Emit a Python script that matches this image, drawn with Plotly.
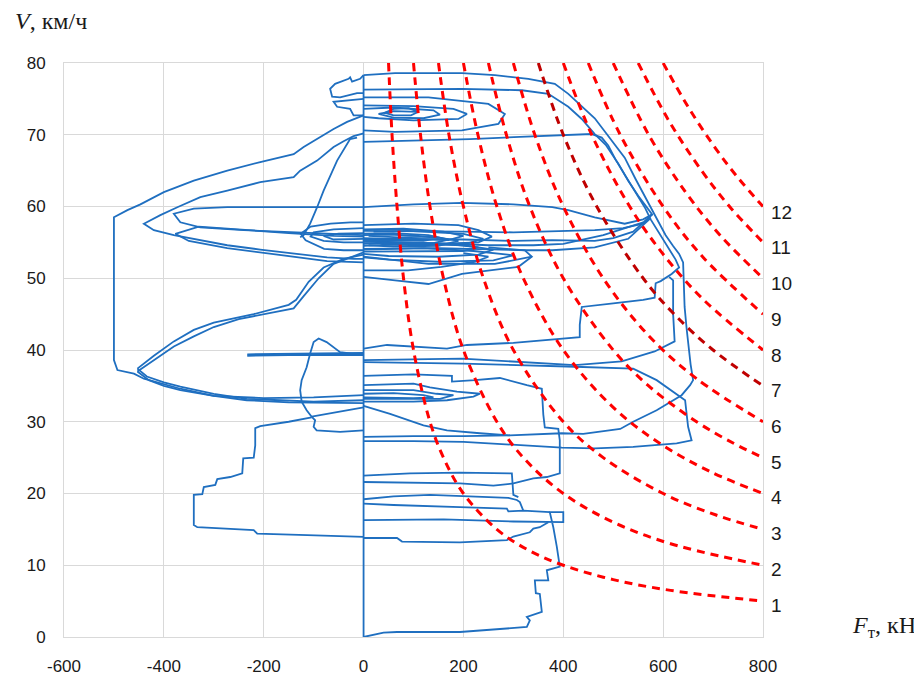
import plotly.graph_objects as go

# ---------------- axes ----------------
x_ticks = [-600, -400, -200, 0, 200, 400, 600, 800]
y_ticks = [0, 10, 20, 30, 40, 50, 60, 70, 80]

# ---------------- red characteristic curves (F, V) ----------------
curve_labels = ["1", "2", "3", "4", "5", "6", "7", "8", "9", "10", "11", "12"]
curve_label_V = [4.4, 9.4, 14.4, 19.4, 24.3, 29.3, 34.3, 39.3, 44.3, 49.3, 54.3, 59.2]

curve_01 = [(50, 80), (57, 70), (67, 60), (80, 50), (100, 40), (133, 30), (160, 25), (200, 20), (267, 15), (333, 12), (400, 10), (500, 8), (615, 6.5), (800, 5)]
curve_02 = [(100, 80), (114, 70), (133, 60), (160, 50), (200, 40), (267, 30), (320, 25), (400, 20), (500, 16), (615, 13), (800, 10)]
curve_03 = [(150, 80), (171, 70), (200, 60), (240, 50), (300, 40), (400, 30), (480, 25), (600, 20), (706, 17), (800, 15)]
curve_04 = [(200, 80), (229, 70), (267, 60), (320, 50), (400, 40), (500, 32), (593, 27), (696, 23), (800, 20)]
curve_05 = [(250, 80), (286, 70), (333, 60), (400, 50), (500, 40), (571, 35), (667, 30), (741, 27), (800, 25)]
curve_06 = [(300, 80), (343, 70), (400, 60), (480, 50), (571, 42), (667, 36), (800, 30)]
curve_07 = [(350, 80), (400, 70), (467, 60), (560, 50), (622, 45), (700, 40), (800, 35)]
curve_08 = [(400, 80), (457, 70), (533, 60), (604, 53), (681, 47), (800, 40)]
curve_09 = [(450, 80), (514, 70), (600, 60), (679, 53), (800, 45)]
curve_10 = [(500, 80), (571, 70), (645, 62), (714, 56), (800, 50)]
curve_11 = [(550, 80), (611, 72), (677, 65), (733, 60), (800, 55)]
curve_12 = [(600, 80), (649, 74), (706, 68), (750, 64), (800, 60)]

# ---------------- blue trajectory pieces (F, V) ----------------
seg_axis0 = [(0, 0.0), (0, 78.3)]
seg_bottom = [(0, 0.0), (40, 0.6), (67, 0.7), (193, 0.7), (327, 1.4), (333, 2.3), (327, 2.8), (357, 3.5),
              (353, 6.0), (345, 6.1), (343, 7.9), (370, 7.9), (367, 9.3), (393, 9.8), (387, 12.6),
              (380, 15.3), (373, 17.4), (400, 17.4), (400, 16.0), (370, 16.0), (300, 16.1), (160, 16.4), (0, 16.3)]
seg_h13 = [(0, 13.8), (67, 13.8), (77, 13.3), (193, 13.2), (287, 13.5), (300, 14.0), (333, 14.6), (340, 15.1), (353, 15.3), (370, 16.0)]
seg_h18 = [(0, 18.6), (60, 18.4), (193, 18.1), (287, 17.9), (290, 17.5), (320, 17.6), (373, 17.4)]
seg_h19 = [(0, 19.2), (60, 19.6), (133, 19.8), (233, 19.6), (290, 19.4), (307, 19.1), (313, 18.8), (320, 17.6)]
seg_h22 = [(0, 22.5), (93, 22.8), (193, 22.9), (297, 22.8), (300, 19.8), (310, 19.5)]
seg_h21 = [(0, 21.6), (193, 21.4), (260, 21.1), (300, 21.4), (340, 22.1), (367, 22.3), (393, 22.8), (393, 27.4),
           (390, 29.0), (363, 29.2), (360, 31.0), (357, 34.6), (327, 35.1), (273, 36.1), (223, 35.8), (177, 35.6),
           (177, 36.4), (100, 36.6), (0, 36.4)]
seg_ls1 = [(0, 35.1), (100, 35.3), (133, 34.8), (187, 34.2), (233, 33.9), (220, 33.5), (167, 33.0), (100, 32.8), (0, 32.8)]
seg_ls2 = [(0, 34.4), (100, 34.4), (146, 33.9), (180, 33.7), (153, 33.2), (100, 33.2), (0, 33.2)]
seg_ls3 = [(0, 33.9), (60, 34.0), (120, 33.7), (140, 33.4), (100, 33.3), (0, 33.4)]
seg_line_c = [(0, 38.3), (200, 38.1), (407, 37.7), (473, 37.6), (540, 37.4), (587, 35.8), (634, 33.5), (644, 33.0),
              (647, 31.1), (650, 29.3), (657, 27.4), (627, 27.0), (540, 26.5), (463, 26.3), (397, 26.4),
              (300, 26.8), (200, 27.2), (100, 27.3), (0, 27.3)]
seg_line_e = [(0, 32.2), (53, 31.1), (120, 29.5), (167, 28.8), (233, 28.4), (293, 28.1)]
seg_x620 = [(612, 50.2), (620, 49.7), (620, 45.0), (621, 42.7), (623, 41.2), (583, 39.8), (517, 38.4),
            (423, 37.9), (300, 38.4), (197, 38.8), (0, 38.6)]
seg_T1 = [(0, 78.3), (63, 78.6), (197, 78.6), (263, 78.3), (330, 77.8), (383, 77.1), (410, 75.7), (437, 74.0),
          (463, 72.3), (487, 70.1), (505, 68.5), (523, 66.8), (545, 63.8), (560, 61.8), (578, 59.6), (592, 57.6),
          (605, 56.0), (620, 54.5), (632, 53.4), (640, 52.2), (641, 50.0), (643, 46.0), (647, 43.0), (650, 40.9),
          (655, 38.0), (660, 35.8), (654, 35.1), (637, 33.7), (587, 31.6), (540, 30.0), (514, 29.0), (440, 28.3),
          (397, 28.4), (293, 28.1), (200, 28.0), (100, 28.0), (0, 27.9)]
seg_T2 = [(0, 76.3), (197, 76.4), (317, 76.2), (370, 75.7), (410, 73.9), (437, 72.2), (463, 70.1), (485, 68.6),
          (510, 66.0), (530, 63.6), (550, 61.5), (570, 59.7), (578, 58.9), (560, 57.6), (520, 57.0), (463, 56.7),
          (378, 56.5), (300, 56.4), (200, 56.5), (100, 56.6), (0, 56.6)]
seg_T3 = [(0, 69.0), (113, 69.2), (213, 69.4), (313, 69.7), (457, 70.1), (477, 69.6), (490, 68.5), (505, 66.5),
          (525, 64.2), (545, 62.0), (563, 59.9), (575, 58.2), (590, 56.5), (610, 54.3), (625, 52.6), (632, 51.5),
          (617, 50.6), (595, 49.6), (585, 49.3), (583, 47.3), (560, 47.0), (500, 46.5), (437, 46.0), (433, 43.5),
          (433, 41.8), (300, 41.0), (207, 40.7), (167, 40.2), (47, 40.7), (0, 40.2)]
seg_line60 = [(0, 59.9), (100, 60.3), (197, 60.5), (300, 60.3), (378, 59.9), (410, 59.5), (463, 58.5),
              (523, 57.6), (560, 58.2), (578, 58.9)]
seg_tip_b = [(578, 58.9), (540, 56.5), (500, 55.6), (463, 55.2), (378, 55.3), (300, 55.2), (200, 55.4), (100, 55.5), (0, 55.4)]
seg_tip_c = [(575, 58.4), (530, 55.5), (463, 54.3), (378, 53.9), (330, 53.9), (250, 54.0), (150, 54.2), (0, 54.1)]
seg_tip_d = [(560, 57.8), (480, 56.0), (400, 54.8), (340, 54.6), (250, 54.6), (150, 54.9), (0, 54.9)]
seg_top1 = [(0, 75.2), (130, 75.2), (250, 74.3), (283, 72.9), (270, 71.5), (197, 70.6), (63, 70.4), (0, 70.6)]
seg_top2 = [(0, 74.1), (100, 74.0), (180, 73.6), (207, 72.9), (190, 72.2), (100, 72.0), (30, 72.3), (0, 72.5)]
seg_top3 = [(0, 73.6), (60, 73.8), (140, 73.4), (153, 72.8), (120, 72.3), (60, 72.4), (30, 72.9), (60, 73.3), (110, 73.2)]
seg_top4 = [(40, 73.0), (60, 73.6), (90, 73.7), (110, 73.2), (95, 72.7), (60, 72.7), (45, 73.0)]
seg_w1 = [(0, 78.3), (-7, 77.8), (-23, 77.4), (-27, 78.0), (-30, 77.8), (-57, 77.1), (-67, 76.4), (-63, 75.3),
          (-47, 75.2), (-27, 75.6), (-13, 75.8), (0, 75.8)]
seg_w2 = [(0, 75.0), (-40, 74.8), (-60, 74.6), (-53, 73.9), (-27, 73.6), (-20, 72.7), (0, 72.7)]
seg_b1 = [(0, 57.4), (100, 57.6), (190, 57.4), (230, 56.7), (257, 55.8), (230, 55.0), (150, 54.8), (50, 55.0), (0, 55.2)]
seg_b2 = [(0, 56.8), (80, 56.9), (160, 56.5), (200, 55.9), (170, 55.3), (80, 55.5), (0, 55.6)]
seg_b3 = [(0, 56.2), (60, 56.3), (130, 56.0), (170, 55.4), (140, 54.9), (60, 55.0), (0, 55.1)]
seg_b4 = [(0, 54.5), (100, 54.8), (200, 54.6), (260, 54.0), (230, 53.3), (150, 53.0), (50, 53.1), (0, 53.4)]
seg_b5 = [(0, 54.0), (120, 54.2), (220, 53.8), (300, 53.2), (260, 52.5), (150, 52.3), (50, 52.6), (0, 52.9)]
seg_b6 = [(0, 51.1), (89, 51.1), (156, 51.6), (223, 52.3), (250, 53.0), (200, 53.5)]
seg_b7 = [(0, 56.0), (50, 56.1), (110, 55.9), (150, 55.6), (120, 55.2), (50, 55.3), (0, 55.3)]
seg_b8 = [(0, 54.8), (80, 54.9), (180, 54.7), (230, 54.3), (200, 53.8), (100, 53.7), (0, 53.7)]
seg_b9 = [(20, 56.5), (90, 56.6), (200, 56.2), (240, 55.5), (210, 54.9), (120, 54.6), (40, 54.7), (20, 55.2)]
seg_b10 = [(10, 55.9), (70, 55.7), (140, 55.8), (190, 55.2), (150, 54.5), (60, 54.4), (10, 54.6)]
seg_e1a = [(0, 53.0), (130, 52.0), (263, 52.0), (337, 53.0)]
seg_e1b = [(250, 54.3), (323, 53.9), (337, 53.0), (310, 51.6), (197, 50.6), (130, 49.2), (63, 49.7), (0, 50.2)]
seg_bl1 = [(0, 57.8), (-26, 57.8), (-66, 57.6), (-106, 57.2), (-126, 56.2), (-116, 55.3), (-79, 54.1), (-40, 53.9), (0, 53.9)]
seg_bl2 = [(0, 57.0), (-60, 56.8), (-100, 56.4), (-106, 55.8), (-80, 55.2), (-40, 55.0), (0, 55.0)]
seg_bl3 = [(0, 56.3), (-50, 56.2), (-80, 55.9), (-60, 55.4), (0, 55.5)]
seg_outer = [(0, 72.7), (-7, 72.5), (-33, 71.8), (-60, 70.8), (-87, 69.7), (-120, 68.3), (-140, 67.3), (-207, 66.2),
             (-273, 65.0), (-340, 63.6), (-400, 62.0), (-447, 60.3), (-473, 59.5), (-500, 58.5), (-500, 44.0),
             (-500, 38.6), (-493, 37.2), (-460, 36.7), (-440, 36.0), (-400, 35.2), (-367, 34.6), (-300, 33.6),
             (-200, 33.3), (-100, 33.4), (0, 33.7)]
seg_tip1 = [(0, 70.2), (-20, 69.8), (-40, 69.1), (-60, 68.3), (-93, 66.4), (-127, 65.0), (-140, 64.1), (-207, 63.4),
            (-273, 62.2), (-327, 61.3), (-373, 59.9), (-407, 58.8), (-440, 57.6), (-420, 56.7), (-380, 56.0),
            (-327, 55.3), (-273, 54.6), (-207, 54.0), (-140, 53.4), (-73, 52.9), (-20, 52.7), (0, 52.7)]
seg_tip2 = [(0, 59.9), (-100, 59.9), (-207, 60.0), (-273, 59.9), (-340, 59.7), (-380, 59.0), (-367, 57.8),
            (-327, 57.1), (-240, 56.7), (-140, 56.4), (-60, 56.2), (0, 56.0)]
seg_tip3 = [(0, 55.8), (-60, 55.9), (-150, 56.3), (-250, 56.8), (-330, 57.2), (-377, 56.2), (-350, 55.2),
            (-273, 54.2), (-207, 53.6), (-140, 53.0), (-73, 52.4), (0, 52.2)]
seg_diag_down = [(-13, 69.6), (-27, 69.4), (-53, 66.4), (-80, 62.2), (-93, 59.9), (-107, 57.6), (-120, 56.0), (-127, 55.7)]
seg_diag_a = [(-453, 37.4), (-420, 39.2), (-380, 41.2), (-340, 42.8), (-300, 43.8), (-273, 44.2), (-220, 45.0),
              (-150, 46.3), (-135, 47.0), (-110, 49.5), (-80, 51.5), (-40, 52.7), (0, 53.3)]
seg_diag_b = [(-453, 37.0), (-420, 38.6), (-380, 40.5), (-340, 41.9), (-300, 43.2), (-250, 44.3), (-200, 45.0),
              (-140, 45.8), (-120, 47.5), (-90, 50.0), (-60, 52.0), (-20, 53.0), (0, 53.6)]
seg_ll1 = [(-453, 37.4), (-434, 36.3), (-400, 35.5), (-367, 34.9), (-300, 33.9), (-234, 33.2), (-167, 33.0), (-100, 32.8), (0, 33.0)]
seg_ll2 = [(-453, 37.0), (-430, 35.8), (-400, 35.0), (-367, 34.4), (-300, 33.6), (-234, 33.0), (-150, 32.7), (0, 32.6)]
seg_h39a = [(-233, 39.4), (-100, 39.5), (0, 39.6)]
seg_h39b = [(-233, 39.2), (-150, 39.3), (0, 39.3)]
seg_triangle = [(0, 39.5), (-23, 39.5), (-47, 39.7), (-60, 40.4), (-74, 41.1), (-90, 41.6), (-100, 41.1), (-107, 39.5),
                (-114, 37.6), (-124, 35.8), (-127, 34.4), (-124, 32.8), (-114, 31.6), (-104, 30.7), (-97, 30.2),
                (-100, 29.3), (-94, 28.8), (-47, 28.6), (0, 28.8)]
seg_stair_left = [(-104, 30.6), (-150, 30.0), (-207, 29.4), (-217, 29.1), (-217, 26.7), (-220, 25.0), (-241, 24.9),
                  (-243, 22.8), (-267, 22.3), (-293, 22.0), (-297, 21.2), (-320, 20.9), (-323, 19.9), (-340, 19.8),
                  (-340, 15.6), (-333, 15.3), (-220, 14.9), (-213, 14.4), (-113, 14.2), (0, 13.95)]
seg_small = [(-104, 30.7), (-50, 31.4), (0, 32.0)]

blue_segments = [seg_axis0, seg_bottom, seg_h13, seg_h18, seg_h19, seg_h22, seg_h21, seg_ls1, seg_ls2, seg_ls3,
                 seg_line_c, seg_line_e, seg_x620, seg_T1, seg_T2, seg_T3, seg_line60, seg_tip_b, seg_tip_c,
                 seg_tip_d, seg_top1, seg_top2, seg_top3, seg_top4, seg_w1, seg_w2, seg_b1, seg_b2, seg_b3,
                 seg_b4, seg_b5, seg_b6, seg_b7, seg_b8, seg_b9, seg_b10, seg_e1a, seg_e1b, seg_bl1, seg_bl2,
                 seg_bl3, seg_outer, seg_tip1, seg_tip2, seg_tip3, seg_diag_down, seg_diag_a, seg_diag_b,
                 seg_ll1, seg_ll2, seg_h39a, seg_h39b, seg_triangle, seg_stair_left, seg_small]

BLUE = "#1f6fc0"
RED = "#ff0000"
DARKRED = "#c00000"

fig = go.Figure()

bx, by = [], []
for seg in blue_segments:
    for f, v in seg:
        bx.append(f)
        by.append(v)
    bx.append(None)
    by.append(None)
fig.add_trace(go.Scatter(x=bx, y=by, mode="lines", line=dict(color=BLUE, width=1.8),
                         connectgaps=False, hoverinfo="skip", showlegend=False))

curves = [curve_01, curve_02, curve_03, curve_04, curve_05, curve_06,
          curve_07, curve_08, curve_09, curve_10, curve_11, curve_12]
for i, c in enumerate(curves):
    fig.add_trace(go.Scatter(x=[p[0] for p in c], y=[p[1] for p in c], mode="lines",
                             line=dict(color=DARKRED if i == 6 else RED, width=3, dash="8px,6px", shape="spline"),
                             hoverinfo="skip", showlegend=False))

# The page body adds an 8 px offset, so the figure is 914x669 placed at (8, 8).
# Plot area in figure pixels: x 56..755, y 55..629.
PL, PW, PT, PH = 56, 699, 55, 574

annotations = []
for lab, v in zip(curve_labels, curve_label_V):
    annotations.append(dict(x=800, y=v, xref="x", yref="y", text=lab, showarrow=False,
                            xanchor="left", yanchor="middle", xshift=6,
                            font=dict(family="Liberation Sans", size=19, color="#1a1a1a")))

annotations.append(dict(x=(5 - PL) / PW, y=(PT + PH - 13) / PH, xref="paper", yref="paper",
                        text="<i>V</i>, км/ч", showarrow=False, xanchor="left", yanchor="middle",
                        font=dict(family="Liberation Serif", size=24, color="#1a1a1a")))
annotations.append(dict(x=(842 - PL) / PW, y=(PT + PH - 619) / PH, xref="paper", yref="paper",
                        text="<i>F</i><sub>т</sub>, кН", showarrow=False, xanchor="left", yanchor="middle",
                        font=dict(family="Liberation Serif", size=24, color="#1a1a1a")))

GRID = "#d9d9d9"
fig.update_layout(
    width=914, height=669,
    margin=dict(l=PL, r=914 - PL - PW, t=PT, b=669 - PT - PH, autoexpand=False),
    paper_bgcolor="white", plot_bgcolor="white",
    annotations=annotations,
    xaxis=dict(range=[-600, 800], tickvals=x_ticks, ticktext=[str(t) for t in x_ticks],
               showgrid=True, gridcolor=GRID, gridwidth=1, zeroline=False, automargin=False,
               showline=True, linecolor=GRID, linewidth=1, mirror=True, ticks="",
               ticklabelstandoff=14,
               tickfont=dict(family="Liberation Sans", size=17, color="#1a1a1a")),
    yaxis=dict(range=[0, 80], tickvals=y_ticks, ticktext=[str(t) for t in y_ticks],
               showgrid=True, gridcolor=GRID, gridwidth=1, zeroline=False, automargin=False,
               showline=True, linecolor=GRID, linewidth=1, mirror=True, ticks="",
               ticklabelstandoff=14,
               tickfont=dict(family="Liberation Sans", size=17, color="#1a1a1a")),
)

fig.write_html("out.html")
